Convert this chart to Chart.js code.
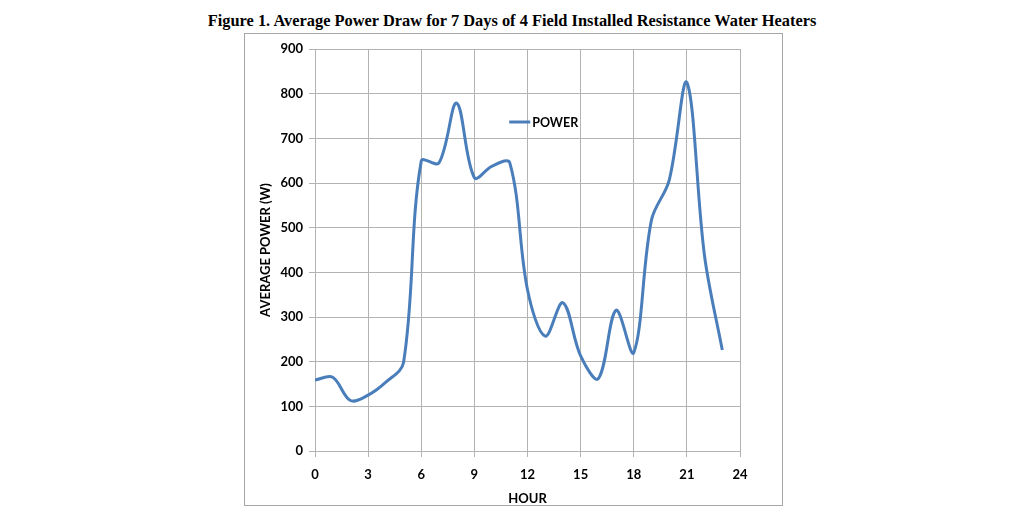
<!DOCTYPE html>
<html>
<head>
<meta charset="utf-8">
<script src="https://cdn.jsdelivr.net/npm/chart.js@4/dist/chart.umd.min.js"></script>
<style>
  html, body { margin: 0; padding: 0; background: #fff; }
  body { width: 1024px; height: 512px; position: relative; overflow: hidden; }
  #title {
    position: absolute; left: 0; top: 11px; width: 1024px; text-align: center;
    font-family: "Liberation Serif", "Times New Roman", serif; font-weight: bold; font-size: 16.4px; color: #000;
  }
  #box {
    position: absolute; left: 244px; top: 33px; width: 539px; height: 473px;
    border: 1px solid #a6a6a6; box-sizing: border-box;
  }
</style>
</head>
<body>
<div id="title">Figure 1. Average Power Draw for 7 Days of 4 Field Installed Resistance Water Heaters</div>
<div id="box"><canvas id="c" width="537" height="471"></canvas></div>
<script>
// hourly averages
const hours = [0, 1, 2, 3, 4, 5, 6, 7, 8, 9, 10, 11, 12, 13, 14, 15, 16, 17, 18, 19, 20, 21, 22, 23]
const power = [159, 165, 113, 125, 154, 198, 649, 645, 779, 612, 638, 645, 361, 257, 332, 213, 162, 315, 220, 517, 606, 825, 436, 226]
const xTicks = [0, 3, 6, 9, 12, 15, 18, 21, 24]
const yTicks = [0, 100, 200, 300, 400, 500, 600, 700, 800, 900]

const lineColor = '#4a7ebb'
const gridColor = '#b3b3b3'
const tickFont = { family: 'Lato, "Open Sans", sans-serif', size: 13, weight: 'bold' }

// legend sitting inside the plot, like the Excel original
const insideLegend = {
  id: 'insideLegend',
  afterDraw(chart) {
    const { ctx, chartArea } = chart
    const x = chartArea.left + chartArea.width * 0.457
    const y = chartArea.top + 73
    ctx.save()
    ctx.strokeStyle = lineColor
    ctx.lineWidth = 3
    ctx.beginPath()
    ctx.moveTo(x, y)
    ctx.lineTo(x + 21, y)
    ctx.stroke()
    ctx.fillStyle = '#000'
    ctx.font = 'bold 12.5px Lato, "Open Sans", sans-serif'
    ctx.textBaseline = 'middle'
    ctx.fillText(chart.data.datasets[0].label, x + 23, y + 1)
    ctx.restore()
  }
}

new Chart(document.getElementById('c'), {
  type: 'line',
  data: {
    datasets: [{
      label: 'POWER',
      data: hours.map((h, i) => ({ x: h, y: power[i] })),
      borderColor: lineColor,
      borderWidth: 3,
      pointRadius: 0,
      tension: 0.35,
      fill: false
    }]
  },
  options: {
    responsive: false,
    animation: false,
    layout: { padding: { top: 15, right: 42, left: 0, bottom: 0 } },
    plugins: { legend: { display: false }, tooltip: { enabled: false } },
    scales: {
      x: {
        type: 'linear', min: 0, max: 24,
        afterBuildTicks: s => { s.ticks = xTicks.map(v => ({ value: v })) },
        afterFit: s => { s.height = 54 },
        grid: { color: gridColor, tickLength: 6, lineWidth: 1 },
        border: { color: gridColor },
        ticks: { color: '#000', font: tickFont, padding: 10, maxRotation: 0 },
        title: { display: true, text: 'HOUR', color: '#000', font: tickFont, padding: { top: 8, bottom: -2 } }
      },
      y: {
        min: 0, max: 900,
        afterBuildTicks: s => { s.ticks = yTicks.map(v => ({ value: v })) },
        afterFit: s => { s.width = 70 },
        grid: { color: gridColor, tickLength: 6, lineWidth: 1 },
        border: { color: gridColor },
        ticks: { color: '#000', font: tickFont, padding: 6 },
        title: { display: true, text: 'AVERAGE POWER (W)', color: '#000', font: tickFont, padding: { top: 13, bottom: 4 } }
      }
    }
  },
  plugins: [insideLegend]
})
</script>
</body>
</html>
